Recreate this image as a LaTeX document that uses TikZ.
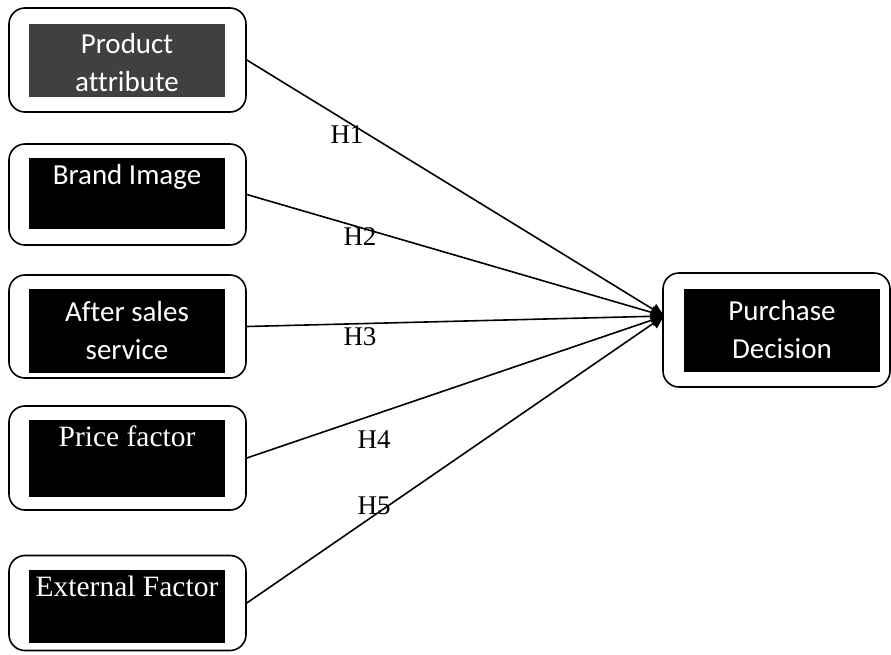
\documentclass[tikz,border=0pt]{standalone}
\usepackage{fontspec}
\setmainfont{Liberation Serif}
\newfontfamily\boxfont[Ligatures=NoCommon]{Carlito}
\usetikzlibrary{arrows.meta}
\definecolor{darkfill}{HTML}{404040}
\begin{document}
\begin{tikzpicture}[x=1pt,y=-1pt,
  frame/.style={draw=black,line width=1.6pt,rounded corners=16pt,fill=white,inner sep=0pt},
  panel/.style={fill=black,draw=none,inner sep=0pt,minimum width=196pt},
  sanslabel/.style={text=white,font=\boxfont\fontsize{29}{38}\selectfont,align=center,inner sep=0pt},
  seriflabel/.style={text=white,font=\fontsize{29.5}{34}\selectfont,align=center,inner sep=0pt},
  hyp/.style={font=\fontsize{27}{30}\selectfont,inner sep=0pt},
  link/.style={line width=1.6pt,-{Triangle[length=13pt,width=12pt]}}]
\useasboundingbox (0,0) rectangle (891,654);

% outer frames
\node[frame,minimum width=237pt,minimum height=104pt] (f1) at (127.5,60) {};
\node[frame,minimum width=237pt,minimum height=101pt] (f2) at (127.5,194.5) {};
\node[frame,minimum width=237pt,minimum height=103pt] (f3) at (127.5,326.5) {};
\node[frame,minimum width=237pt,minimum height=104pt] (f4) at (127.5,458) {};
\node[frame,minimum width=237pt,minimum height=95pt] (f5) at (127.5,603) {};
\node[frame,minimum width=227pt,minimum height=114pt] (f6) at (776.5,330) {};

% inner panels
\node[panel,fill=darkfill,minimum height=73pt] (p1) at (127,60.5) {};
\node[panel,minimum height=71pt] (p2) at (127,193.5) {};
\node[panel,minimum height=84pt] (p3) at (127,330.5) {};
\node[panel,minimum height=77pt] (p4) at (127,458.5) {};
\node[panel,minimum height=73pt] (p5) at (127,606.5) {};
\node[panel,minimum height=83pt] (p6) at (782,330.5) {};

% panel texts
\node[sanslabel] (t1) at (127,63) {Product\\attribute};
\node[sanslabel,anchor=north] (t2) at (127,164) {Brand Image};
\node[sanslabel] (t3) at (127,331) {After sales\\service};
\node[seriflabel,anchor=north] (t4) at (127,426) {Price factor};
\node[seriflabel,anchor=north] (t5) at (127,576) {External Factor};
\node[sanslabel] (t6) at (782,330) {Purchase\\Decision};

% converging links
\coordinate (tip) at (664,316);
\draw[link] (f1.east) -- (tip);
\draw[link] (f2.east) -- (tip);
\draw[link] (f3.east) -- (tip);
\draw[link] (f4.east) -- (tip);
\draw[link] (f5.east) -- (tip);

% hypothesis labels
\node[hyp] (h1) at (347,135) {H1};
\node[hyp] (h2) at (360,237) {H2};
\node[hyp] (h3) at (360,337) {H3};
\node[hyp] (h4) at (374,440) {H4};
\node[hyp] (h5) at (374,506) {H5};
\end{tikzpicture}
\end{document}
